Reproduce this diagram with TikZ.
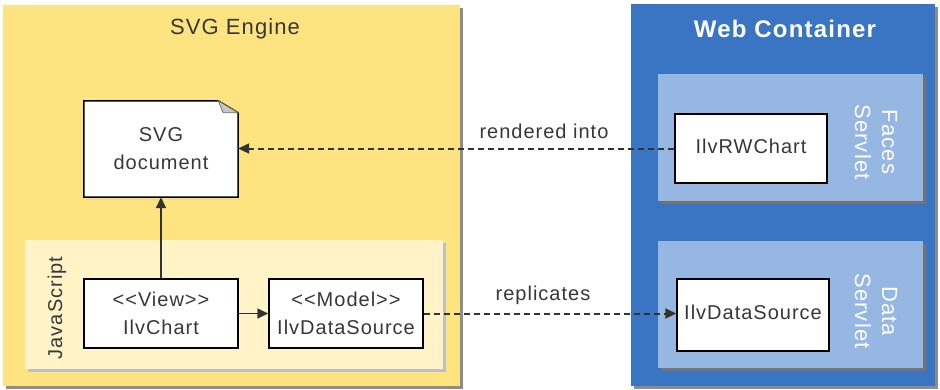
\documentclass[tikz,border=0pt]{standalone}
\usepackage{fontspec}
\setmainfont{Liberation Sans}[LetterSpace=5,Ligatures=NoCommon]
\usetikzlibrary{arrows.meta}
\definecolor{engineY}{RGB}{253,228,128}
\definecolor{jsY}{RGB}{255,243,199}
\definecolor{webB}{RGB}{58,117,196}
\definecolor{servB}{RGB}{150,183,225}
\definecolor{txtG}{RGB}{55,55,55}
\definecolor{lineG}{RGB}{50,50,50}
\tikzset{
  shadowp/.style={fill=black!45},
  boxn/.style={draw=black, line width=1.5pt, fill=white, inner sep=0pt, align=center, text=txtG, font=\fontsize{20pt}{28pt}\selectfont},
  lbl/.style={text=txtG, font=\fontsize{20pt}{28pt}\selectfont, inner sep=0pt},
  solidarr/.style={draw=lineG, line width=1.6pt, -{Triangle[length=11pt,width=10pt]}},
  dasharr/.style={draw=lineG, line width=2pt, dash pattern=on 6pt off 4pt, -{Triangle[length=11pt,width=10pt]}},
}
\begin{document}
\begin{tikzpicture}[x=1pt,y=-1pt]
\useasboundingbox (0,0) rectangle (940,389);
\fill[white] (0,0) rectangle (940,389);
% SVG Engine panel
\fill[shadowp] (6,8) rectangle (463,389);
\fill[engineY] (3,5) rectangle (460,386);
\node[lbl, font=\fontsize{22pt}{26pt}\selectfont] (engtitle) at (235,29) {SVG Engine};
% JavaScript panel
\fill[black!25] (28,243) rectangle (446,372);
\fill[jsY] (25,240) rectangle (443,369);
\node[lbl, rotate=90] (jslbl) at (57,308) {JavaScript};
% Web Container panel
\fill[shadowp] (634,7) rectangle (938,389);
\fill[webB] (631,4) rectangle (935,386);
\node[text=white, inner sep=0pt, font=\fontsize{24pt}{28pt}\selectfont\bfseries] (webtitle) at (785,29) {Web Container};
% servlet panels
\fill[black!55] (661,77) rectangle (926,204);
\fill[servB] (658,74) rectangle (923,201);
\node[text=white, inner sep=0pt, rotate=-90, align=center, font=\fontsize{22pt}{27pt}\selectfont] (faceslbl) at (876,142) {Faces\\Servlet};
\fill[black!55] (661,244) rectangle (926,371);
\fill[servB] (658,241) rectangle (923,368);
\node[text=white, inner sep=0pt, rotate=-90, align=center, font=\fontsize{22pt}{27pt}\selectfont] (datalbl) at (876,311) {Data\\Servlet};
% SVG document (folded corner)
\node[inner sep=0pt, minimum width=154pt, minimum height=96pt] (svgdoc) at (161,149) {};
\fill[black!40] ([shift={(2pt,-2pt)}]svgdoc.south west) rectangle ([shift={(2pt,-2pt)}]svgdoc.south east);
\filldraw[draw=black, line width=1.5pt, fill=white]
  (svgdoc.north west) -- ([xshift=-20pt]svgdoc.north east) -- ([yshift=-12pt]svgdoc.north east) -- (svgdoc.south east) -- (svgdoc.south west) -- cycle;
\filldraw[draw=black!55, line width=0.8pt, fill=black!22]
  ([xshift=-20pt]svgdoc.north east) -- ([xshift=-15pt,yshift=-12pt]svgdoc.north east) -- ([yshift=-12pt]svgdoc.north east) -- cycle;
\node[lbl, align=center] (svgdoctext) at (svgdoc.center) {SVG\\document};
% boxes
\node[boxn, minimum width=154pt, minimum height=69pt] (view) at (161,313.5) {{<}{<}View{>}{>}\\IlvChart};
\node[boxn, minimum width=154pt, minimum height=69pt] (model) at (346,313.5) {{<}{<}Model{>}{>}\\IlvDataSource};
\node[boxn, minimum width=152pt, minimum height=69pt] (rwchart) at (751,148.5) {\raisebox{5pt}{IlvRWChart}};
\node[boxn, minimum width=152pt, minimum height=72pt] (dsrc) at (753,315) {\raisebox{5pt}{IlvDataSource}};
% connectors
\draw[solidarr] (view.north) -- (svgdoc.south);
\draw[solidarr] (view.east) -- (model.west);
\draw[dasharr] (rwchart.west) -- (rwchart.west -| svgdoc.east);
\draw[dasharr] (model.east) -- (model.east -| dsrc.west);
% labels
\node[lbl] (rendlbl) at (544,131) {rendered into};
\node[lbl] (repllbl) at (543,295) {replicates};
\end{tikzpicture}
\end{document}
